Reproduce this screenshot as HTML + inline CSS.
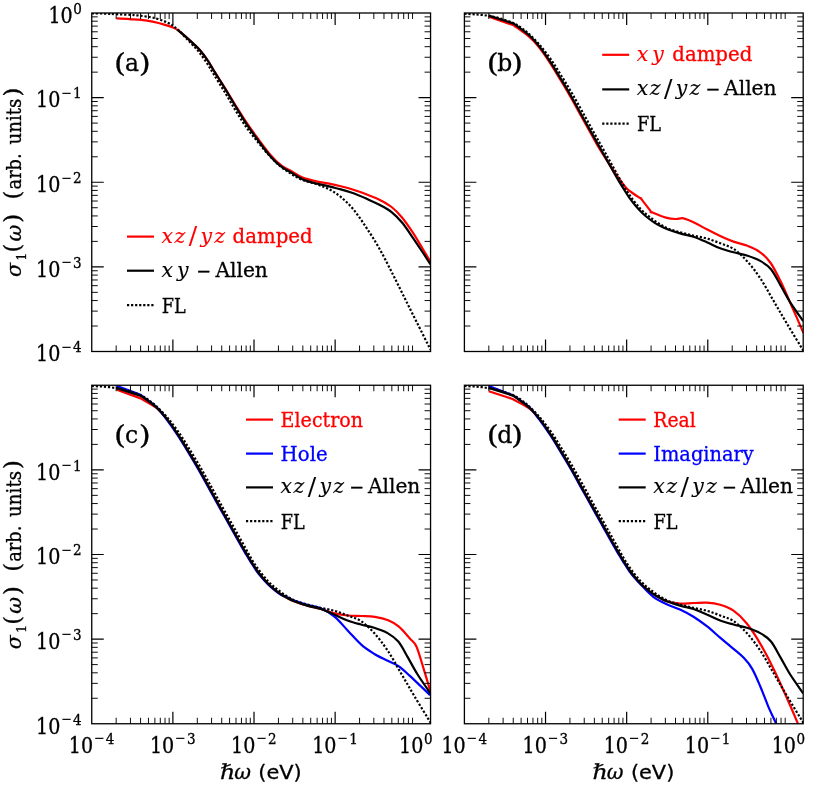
<!DOCTYPE html>
<html><head><meta charset="utf-8"><title>Optical conductivity</title>
<style>html,body{margin:0;padding:0;background:#fff}body{width:830px;height:786px;overflow:hidden}</style></head>
<body>
<svg width="830" height="786" viewBox="0 0 830 786" style="display:block;will-change:transform;font-family:'DejaVu Serif Condensed','DejaVu Serif','Liberation Serif',serif">
<rect width="830" height="786" fill="#fff"/>
<style>text{stroke-width:0.3px}</style>
<clipPath id="cpa"><rect x="91.75" y="13.0" width="338.8" height="338.5"/></clipPath>
<g clip-path="url(#cpa)">
<path d="M116.5,18.4 C118.7,18.5 125.4,18.8 129.5,19.1 C133.6,19.4 137.2,19.5 141.1,19.9 C144.9,20.3 148.8,20.9 152.6,21.7 C156.4,22.5 160.8,23.6 164.2,24.6 C167.6,25.6 170.5,26.5 172.9,27.5 C175.3,28.5 176.4,29.1 178.6,30.6 C180.8,32.1 183.4,34.6 185.9,36.8 C188.4,39.0 190.9,41.3 193.3,43.6 C195.7,45.9 197.7,47.6 200.2,50.5 C202.7,53.4 205.6,57.3 208.1,61.0 C210.6,64.7 212.1,67.9 215.1,72.7 C218.1,77.5 222.5,84.0 226.2,90.0 C229.9,96.0 233.7,102.5 237.4,108.4 C241.1,114.4 244.9,120.3 248.6,125.7 C252.3,131.1 256.0,135.9 259.6,140.8 C263.2,145.7 266.9,150.8 270.5,154.9 C274.1,159.1 277.9,162.9 281.5,165.7 C285.1,168.4 288.4,169.4 291.9,171.4 C295.4,173.4 298.7,176.0 302.6,177.6 C306.5,179.2 311.1,180.1 315.3,181.1 C319.5,182.1 323.8,182.6 328.0,183.4 C332.2,184.2 336.5,185.1 340.8,186.2 C345.0,187.2 349.3,188.3 353.5,189.7 C357.7,191.0 362.0,192.7 366.2,194.3 C370.4,195.9 374.7,197.3 378.9,199.4 C383.1,201.5 387.8,204.0 391.6,207.0 C395.4,210.0 398.4,213.2 401.8,217.2 C405.2,221.2 408.5,226.1 411.9,231.2 C415.3,236.3 419.0,242.6 422.1,247.7 C425.2,252.8 429.1,259.6 430.5,262.0" stroke="#ff0000" stroke-width="2.2" fill="none" stroke-linejoin="round"/>
<path d="M177.2,29.6 C178.7,30.8 183.2,34.5 185.9,36.8 C188.6,39.1 190.9,41.3 193.3,43.6 C195.7,45.9 197.7,47.6 200.2,50.5 C202.7,53.4 205.6,57.3 208.1,61.0 C210.6,64.7 212.1,67.9 215.1,72.7 C218.1,77.5 222.3,84.0 225.9,90.0 C229.5,96.0 233.2,102.5 236.8,108.4 C240.4,114.4 244.0,120.3 247.6,125.7 C251.2,131.1 254.8,135.9 258.4,140.8 C262.0,145.7 265.6,150.8 269.2,154.9 C272.8,159.1 276.4,162.8 280.0,165.7 C283.6,168.6 287.1,170.1 290.8,172.3 C294.4,174.5 298.2,177.2 301.9,179.0 C305.6,180.8 309.1,181.7 312.9,182.8 C316.7,183.9 321.7,184.7 324.9,185.4 C328.1,186.1 329.2,186.4 331.9,187.1 C334.5,187.8 337.2,188.4 340.8,189.4 C344.4,190.4 349.3,191.8 353.5,193.3 C357.7,194.8 362.0,196.7 366.2,198.6 C370.4,200.5 374.7,202.2 378.9,204.5 C383.1,206.8 387.8,209.1 391.6,212.1 C395.4,215.1 398.4,218.3 401.8,222.3 C405.2,226.3 408.5,231.4 411.9,236.3 C415.3,241.2 419.0,246.8 422.1,251.5 C425.2,256.2 429.1,262.2 430.5,264.4" stroke="#000000" stroke-width="2.2" fill="none" stroke-linejoin="round"/>
<path d="M91.8,13.3 C93.9,13.4 100.8,13.4 104.9,13.6 C109.0,13.8 111.4,13.9 116.5,14.2 C121.6,14.5 129.8,14.7 135.3,15.2 C140.8,15.7 145.9,16.4 149.7,17.0 C153.6,17.6 155.5,18.2 158.4,19.1 C161.3,20.0 164.7,21.3 167.1,22.4 C169.5,23.5 171.0,24.4 172.9,25.7 C174.8,27.0 176.5,28.4 178.6,30.3 C180.7,32.2 183.1,35.0 185.4,37.4 C187.7,39.8 190.0,42.1 192.3,44.6 C194.6,47.1 196.8,49.2 199.2,52.3 C201.6,55.4 204.5,59.3 206.9,63.0 C209.3,66.7 210.9,69.7 213.9,74.5 C216.9,79.3 221.1,86.0 224.7,92.0 C228.3,98.0 232.0,104.6 235.6,110.5 C239.2,116.4 242.8,122.2 246.5,127.4 C250.2,132.6 253.9,137.1 257.7,141.8 C261.5,146.5 265.5,151.5 269.2,155.5 C272.9,159.5 276.4,163.0 280.0,166.0 C283.6,169.0 287.1,171.3 290.8,173.6 C294.4,175.9 297.8,178.1 301.9,179.8 C306.0,181.5 310.9,182.3 315.3,183.8 C319.6,185.3 323.8,186.5 328.0,188.7 C332.2,190.9 336.5,193.4 340.8,196.9 C345.0,200.4 349.3,204.5 353.5,209.6 C357.7,214.7 362.0,221.1 366.2,227.4 C370.4,233.8 374.7,240.3 378.9,247.7 C383.1,255.1 387.4,263.6 391.6,271.9 C395.8,280.2 400.1,288.8 404.3,297.3 C408.5,305.8 412.6,314.0 417.0,322.7 C421.4,331.4 428.2,345.1 430.5,349.6" stroke="#000000" stroke-width="2.2" fill="none" stroke-linejoin="round" stroke-dasharray="2.2 1.85"/>
</g>
<path d="M172.88,351.50v-12M172.88,13.00v12M254.01,351.50v-12M254.01,13.00v12M335.14,351.50v-12M335.14,13.00v12M91.75,266.88h12M430.55,266.88h-12M91.75,182.25h12M430.55,182.25h-12M91.75,97.62h12M430.55,97.62h-12" stroke="#000" stroke-width="1.2" fill="none"/>
<path d="M116.17,351.50v-6M116.17,13.00v6M130.46,351.50v-6M130.46,13.00v6M140.59,351.50v-6M140.59,13.00v6M148.46,351.50v-6M148.46,13.00v6M154.88,351.50v-6M154.88,13.00v6M160.31,351.50v-6M160.31,13.00v6M165.02,351.50v-6M165.02,13.00v6M169.17,351.50v-6M169.17,13.00v6M197.30,351.50v-6M197.30,13.00v6M211.59,351.50v-6M211.59,13.00v6M221.72,351.50v-6M221.72,13.00v6M229.58,351.50v-6M229.58,13.00v6M236.01,351.50v-6M236.01,13.00v6M241.44,351.50v-6M241.44,13.00v6M246.14,351.50v-6M246.14,13.00v6M250.29,351.50v-6M250.29,13.00v6M278.43,351.50v-6M278.43,13.00v6M292.72,351.50v-6M292.72,13.00v6M302.85,351.50v-6M302.85,13.00v6M310.71,351.50v-6M310.71,13.00v6M317.14,351.50v-6M317.14,13.00v6M322.57,351.50v-6M322.57,13.00v6M327.27,351.50v-6M327.27,13.00v6M331.42,351.50v-6M331.42,13.00v6M359.56,351.50v-6M359.56,13.00v6M373.84,351.50v-6M373.84,13.00v6M383.98,351.50v-6M383.98,13.00v6M391.84,351.50v-6M391.84,13.00v6M398.27,351.50v-6M398.27,13.00v6M403.70,351.50v-6M403.70,13.00v6M408.40,351.50v-6M408.40,13.00v6M412.55,351.50v-6M412.55,13.00v6M91.75,326.03h6M430.55,326.03h-6M91.75,311.12h6M430.55,311.12h-6M91.75,300.55h6M430.55,300.55h-6M91.75,292.35h6M430.55,292.35h-6M91.75,285.65h6M430.55,285.65h-6M91.75,279.98h6M430.55,279.98h-6M91.75,275.08h6M430.55,275.08h-6M91.75,270.75h6M430.55,270.75h-6M91.75,241.40h6M430.55,241.40h-6M91.75,226.50h6M430.55,226.50h-6M91.75,215.93h6M430.55,215.93h-6M91.75,207.72h6M430.55,207.72h-6M91.75,201.02h6M430.55,201.02h-6M91.75,195.36h6M430.55,195.36h-6M91.75,190.45h6M430.55,190.45h-6M91.75,186.12h6M430.55,186.12h-6M91.75,156.78h6M430.55,156.78h-6M91.75,141.87h6M430.55,141.87h-6M91.75,131.30h6M430.55,131.30h-6M91.75,123.10h6M430.55,123.10h-6M91.75,116.40h6M430.55,116.40h-6M91.75,110.73h6M430.55,110.73h-6M91.75,105.83h6M430.55,105.83h-6M91.75,101.50h6M430.55,101.50h-6M91.75,72.15h6M430.55,72.15h-6M91.75,57.25h6M430.55,57.25h-6M91.75,46.68h6M430.55,46.68h-6M91.75,38.47h6M430.55,38.47h-6M91.75,31.77h6M430.55,31.77h-6M91.75,26.11h6M430.55,26.11h-6M91.75,21.20h6M430.55,21.20h-6M91.75,16.87h6M430.55,16.87h-6" stroke="#000" stroke-width="0.95" fill="none"/>
<rect x="91.75" y="13.0" width="338.8" height="338.5" fill="none" stroke="#000" stroke-width="1.3"/>
<clipPath id="cpb"><rect x="464.4" y="13.0" width="338.8" height="338.5"/></clipPath>
<g clip-path="url(#cpb)">
<path d="M488.8,16.6 L513.7,25.3 C516.2,27.2 524.7,32.9 528.8,36.5 C533.0,40.1 535.2,42.6 538.7,46.9 C542.1,51.2 545.9,56.7 549.5,62.1 C553.1,67.5 556.6,73.5 560.2,79.4 C563.9,85.3 567.4,91.4 571.0,97.7 C574.6,104.0 578.2,110.7 581.8,117.2 C585.4,123.7 589.8,131.5 592.7,136.6 C595.5,141.7 595.7,142.5 599.0,147.8 C602.2,153.1 608.8,163.3 612.0,168.2 C615.1,173.1 616.0,174.3 618.0,177.2 C620.0,180.0 622.2,183.1 624.0,185.3 C625.8,187.5 626.0,188.1 628.8,190.3 C631.5,192.5 638.7,197.1 640.8,198.5 C642.8,199.9 639.5,196.7 641.2,198.9 C642.9,201.1 649.2,209.4 651.0,211.6 C652.7,213.8 649.0,211.1 651.5,212.1 C654.0,213.1 661.9,216.4 666.0,217.6 C670.0,218.8 672.8,218.9 675.8,219.0 C678.7,219.1 680.4,217.7 683.5,218.3 C686.5,218.9 690.1,220.7 694.0,222.5 C697.9,224.3 702.5,227.1 706.8,229.3 C711.2,231.6 715.7,233.9 720.2,236.0 C724.6,238.1 729.1,240.0 733.5,241.6 C738.0,243.2 742.4,243.8 746.8,245.6 C751.3,247.4 756.2,249.3 760.2,252.3 C764.3,255.3 767.4,258.3 771.0,263.5 C774.5,268.7 778.1,276.2 781.7,283.6 C785.2,291.0 788.7,299.4 792.3,307.6 C796.0,315.8 801.7,328.8 803.5,333.0" stroke="#ff0000" stroke-width="2.2" fill="none" stroke-linejoin="round"/>
<path d="M488.8,15.6 L513.7,23.6 C516.2,25.5 524.5,31.1 528.8,35.0 C533.2,38.9 536.1,42.4 539.7,46.9 C543.3,51.4 546.9,56.7 550.5,62.1 C554.1,67.5 557.6,73.5 561.2,79.4 C564.9,85.3 568.4,91.4 572.0,97.7 C575.6,104.0 579.2,110.7 582.8,117.2 C586.4,123.7 590.8,131.5 593.7,136.6 C596.5,141.7 597.9,144.2 600.0,147.8 C602.0,151.5 604.0,154.9 606.0,158.5 C608.0,162.1 610.0,165.7 612.0,169.2 C614.0,172.7 616.0,176.2 618.0,179.6 C620.0,183.0 622.0,186.3 624.0,189.5 C626.0,192.7 628.0,195.9 630.0,198.7 C632.0,201.5 634.0,204.0 636.0,206.3 C638.0,208.6 640.0,210.8 642.0,212.7 C644.0,214.6 646.0,216.4 648.0,218.0 C650.0,219.6 652.0,221.0 654.0,222.3 C656.0,223.6 657.8,224.7 660.0,225.8 C662.1,226.9 663.4,227.7 666.8,229.0 C670.1,230.3 675.6,232.1 680.0,233.4 C684.5,234.7 689.0,235.3 693.5,236.8 C697.9,238.3 702.4,240.3 706.8,242.2 C711.3,244.1 715.7,246.6 720.2,248.3 C724.6,250.0 729.1,251.1 733.5,252.3 C738.0,253.5 742.4,254.1 746.8,255.5 C751.3,256.9 756.2,258.6 760.2,260.9 C764.3,263.2 767.6,265.2 771.0,269.2 C774.3,273.2 777.1,279.4 780.3,284.9 C783.6,290.4 786.4,296.2 790.2,302.3 C794.1,308.4 801.1,318.1 803.2,321.2" stroke="#000000" stroke-width="2.2" fill="none" stroke-linejoin="round"/>
<path d="M464.4,13.7 C466.3,13.8 471.9,14.1 475.9,14.4 C480.0,14.8 484.8,15.1 488.8,15.8 C492.8,16.5 495.9,17.2 499.9,18.4 C504.0,19.6 509.8,21.5 513.2,23.0 C516.8,24.5 518.4,25.7 521.0,27.5 C523.6,29.3 525.7,31.0 528.8,33.9 C532.0,36.8 536.1,40.9 539.7,45.0 C543.3,49.1 546.9,53.7 550.5,58.8 C554.1,63.9 557.6,69.7 561.2,75.5 C564.9,81.3 568.4,87.2 572.0,93.4 C575.6,99.6 579.2,106.0 582.8,112.5 C586.4,119.0 590.1,125.8 593.7,132.3 C597.3,138.8 600.8,145.0 604.5,151.5 C608.1,158.0 611.8,164.5 615.5,171.2 C619.3,177.9 623.0,185.2 627.2,191.5 C631.3,197.8 636.1,204.1 640.5,208.8 C645.0,213.6 649.4,216.8 653.8,220.0 C658.1,223.2 662.4,225.9 666.8,228.0 C671.1,230.1 675.6,231.0 680.0,232.3 C684.5,233.6 689.0,234.6 693.5,235.6 C697.9,236.6 702.4,237.2 706.8,238.5 C711.3,239.8 715.7,241.5 720.2,243.2 C724.6,244.9 729.1,246.0 733.5,248.9 C738.0,251.8 742.4,256.0 746.8,260.9 C751.3,265.8 755.8,271.5 760.2,278.2 C764.7,284.9 769.2,293.4 773.7,301.0 C778.1,308.6 782.0,315.4 787.0,323.7 C791.9,332.0 800.8,346.4 803.5,350.9" stroke="#000000" stroke-width="2.2" fill="none" stroke-linejoin="round" stroke-dasharray="2.2 1.85"/>
</g>
<path d="M545.53,351.50v-12M545.53,13.00v12M626.66,351.50v-12M626.66,13.00v12M707.79,351.50v-12M707.79,13.00v12M464.40,266.88h12M803.20,266.88h-12M464.40,182.25h12M803.20,182.25h-12M464.40,97.62h12M803.20,97.62h-12" stroke="#000" stroke-width="1.2" fill="none"/>
<path d="M488.82,351.50v-6M488.82,13.00v6M503.11,351.50v-6M503.11,13.00v6M513.24,351.50v-6M513.24,13.00v6M521.11,351.50v-6M521.11,13.00v6M527.53,351.50v-6M527.53,13.00v6M532.96,351.50v-6M532.96,13.00v6M537.67,351.50v-6M537.67,13.00v6M541.82,351.50v-6M541.82,13.00v6M569.95,351.50v-6M569.95,13.00v6M584.24,351.50v-6M584.24,13.00v6M594.37,351.50v-6M594.37,13.00v6M602.23,351.50v-6M602.23,13.00v6M608.66,351.50v-6M608.66,13.00v6M614.09,351.50v-6M614.09,13.00v6M618.79,351.50v-6M618.79,13.00v6M622.94,351.50v-6M622.94,13.00v6M651.08,351.50v-6M651.08,13.00v6M665.37,351.50v-6M665.37,13.00v6M675.50,351.50v-6M675.50,13.00v6M683.36,351.50v-6M683.36,13.00v6M689.79,351.50v-6M689.79,13.00v6M695.22,351.50v-6M695.22,13.00v6M699.92,351.50v-6M699.92,13.00v6M704.07,351.50v-6M704.07,13.00v6M732.21,351.50v-6M732.21,13.00v6M746.49,351.50v-6M746.49,13.00v6M756.63,351.50v-6M756.63,13.00v6M764.49,351.50v-6M764.49,13.00v6M770.92,351.50v-6M770.92,13.00v6M776.35,351.50v-6M776.35,13.00v6M781.05,351.50v-6M781.05,13.00v6M785.20,351.50v-6M785.20,13.00v6M464.40,326.03h6M803.20,326.03h-6M464.40,311.12h6M803.20,311.12h-6M464.40,300.55h6M803.20,300.55h-6M464.40,292.35h6M803.20,292.35h-6M464.40,285.65h6M803.20,285.65h-6M464.40,279.98h6M803.20,279.98h-6M464.40,275.08h6M803.20,275.08h-6M464.40,270.75h6M803.20,270.75h-6M464.40,241.40h6M803.20,241.40h-6M464.40,226.50h6M803.20,226.50h-6M464.40,215.93h6M803.20,215.93h-6M464.40,207.72h6M803.20,207.72h-6M464.40,201.02h6M803.20,201.02h-6M464.40,195.36h6M803.20,195.36h-6M464.40,190.45h6M803.20,190.45h-6M464.40,186.12h6M803.20,186.12h-6M464.40,156.78h6M803.20,156.78h-6M464.40,141.87h6M803.20,141.87h-6M464.40,131.30h6M803.20,131.30h-6M464.40,123.10h6M803.20,123.10h-6M464.40,116.40h6M803.20,116.40h-6M464.40,110.73h6M803.20,110.73h-6M464.40,105.83h6M803.20,105.83h-6M464.40,101.50h6M803.20,101.50h-6M464.40,72.15h6M803.20,72.15h-6M464.40,57.25h6M803.20,57.25h-6M464.40,46.68h6M803.20,46.68h-6M464.40,38.47h6M803.20,38.47h-6M464.40,31.77h6M803.20,31.77h-6M464.40,26.11h6M803.20,26.11h-6M464.40,21.20h6M803.20,21.20h-6M464.40,16.87h6M803.20,16.87h-6" stroke="#000" stroke-width="0.95" fill="none"/>
<rect x="464.4" y="13.0" width="338.8" height="338.5" fill="none" stroke="#000" stroke-width="1.3"/>
<clipPath id="cpc"><rect x="91.75" y="385.25" width="338.8" height="338.5"/></clipPath>
<g clip-path="url(#cpc)">
<path d="M116.8,389.8 L140.6,398.4 C143.2,400.0 152.3,404.7 156.8,408.1 C161.2,411.6 163.5,414.8 167.0,419.1 C170.5,423.5 174.2,428.9 177.8,434.4 C181.4,439.8 185.0,445.7 188.6,451.6 C192.2,457.6 195.8,463.6 199.4,469.9 C203.0,476.2 206.6,483.0 210.2,489.4 C213.8,495.9 218.2,503.8 221.0,508.9 C223.9,514.0 225.3,516.4 227.3,520.0 C229.3,523.7 231.3,527.2 233.3,530.8 C235.3,534.3 237.3,537.9 239.3,541.5 C241.3,545.0 243.3,548.5 245.3,551.9 C247.3,555.2 249.3,558.6 251.3,561.8 C253.3,564.9 255.3,568.2 257.3,571.0 C259.3,573.8 261.3,576.2 263.3,578.5 C265.3,580.9 267.3,583.0 269.3,585.0 C271.3,586.9 273.3,588.6 275.3,590.2 C277.3,591.9 279.3,593.2 281.3,594.5 C283.3,595.8 285.2,596.9 287.3,598.0 C289.4,599.2 290.7,600.0 294.1,601.2 C297.4,602.5 303.0,604.4 307.4,605.6 C311.9,606.9 316.2,607.8 320.8,609.0 C325.4,610.3 330.2,612.3 334.8,613.4 C339.4,614.5 343.7,615.1 348.1,615.5 C352.6,615.9 357.1,615.8 361.5,616.0 C365.9,616.2 370.4,616.1 374.8,616.8 C379.2,617.5 384.2,618.6 388.2,620.3 C392.2,621.9 395.3,623.7 398.9,626.7 C402.5,629.7 406.7,635.0 409.6,638.2 C412.5,641.5 414.1,641.5 416.3,646.2 C418.5,650.9 420.6,658.9 422.9,666.3 C425.2,673.6 428.9,686.3 430.1,690.3" stroke="#ff0000" stroke-width="2.2" fill="none" stroke-linejoin="round"/>
<path d="M116.8,385.9 L140.6,394.9 C143.1,396.9 151.5,402.4 155.8,406.4 C160.0,410.5 162.7,414.5 166.3,419.1 C169.9,423.8 173.5,428.9 177.1,434.4 C180.7,439.8 184.3,445.7 187.9,451.6 C191.5,457.6 195.1,463.6 198.7,469.9 C202.3,476.2 205.9,483.0 209.5,489.4 C213.1,495.9 217.5,503.8 220.3,508.9 C223.2,514.0 224.6,516.4 226.6,520.0 C228.7,523.7 230.6,527.2 232.6,530.8 C234.6,534.3 236.6,537.9 238.6,541.5 C240.6,545.0 242.6,548.5 244.6,551.9 C246.6,555.2 248.6,558.6 250.6,561.8 C252.6,564.9 254.6,568.2 256.6,571.0 C258.6,573.8 260.6,576.2 262.6,578.5 C264.6,580.9 266.6,583.0 268.6,585.0 C270.6,586.9 272.6,588.6 274.6,590.2 C276.6,591.9 278.5,593.4 280.6,594.5 C282.7,595.7 285.1,596.3 287.3,597.2 C289.6,598.2 290.7,599.2 294.1,600.5 C297.4,601.7 303.0,603.6 307.4,604.9 C311.9,606.1 316.2,606.3 320.8,608.2 C325.4,610.2 330.2,613.0 334.8,616.8 C339.4,620.6 343.7,626.3 348.1,631.0 C352.6,635.7 357.1,641.0 361.5,644.9 C365.9,648.8 370.4,651.5 374.8,654.2 C379.2,656.9 384.2,658.9 388.2,660.9 C392.2,662.9 395.3,663.8 398.9,666.3 C402.5,668.8 406.0,672.4 409.6,675.6 C413.2,678.9 416.9,682.5 420.3,685.8 C423.7,689.0 428.5,693.5 430.1,695.1" stroke="#0000ff" stroke-width="2.2" fill="none" stroke-linejoin="round"/>
<path d="M116.2,387.9 L141.0,395.9 C143.5,397.8 151.9,403.4 156.2,407.2 C160.5,411.1 163.4,414.6 167.0,419.1 C170.6,423.7 174.2,428.9 177.8,434.4 C181.4,439.8 185.0,445.7 188.6,451.6 C192.2,457.6 195.8,463.6 199.4,469.9 C203.0,476.2 206.6,483.0 210.2,489.4 C213.8,495.9 218.2,503.8 221.0,508.9 C223.9,514.0 225.3,516.4 227.3,520.0 C229.3,523.7 231.3,527.2 233.3,530.8 C235.3,534.3 237.3,537.9 239.3,541.5 C241.3,545.0 243.3,548.5 245.3,551.9 C247.3,555.2 249.3,558.6 251.3,561.8 C253.3,564.9 255.3,568.2 257.3,571.0 C259.3,573.8 261.3,576.2 263.3,578.5 C265.3,580.9 267.3,583.0 269.3,585.0 C271.3,586.9 273.3,588.6 275.3,590.2 C277.3,591.9 279.3,593.2 281.3,594.5 C283.3,595.8 285.2,596.9 287.3,598.0 C289.4,599.2 290.7,600.0 294.1,601.2 C297.4,602.5 303.0,604.4 307.4,605.6 C311.9,606.9 316.3,607.6 320.8,609.0 C325.3,610.5 329.8,612.5 334.2,614.5 C338.6,616.4 343.1,618.9 347.5,620.5 C352.0,622.2 356.5,623.3 360.9,624.5 C365.4,625.8 369.8,626.3 374.2,627.8 C378.6,629.2 383.6,630.9 387.6,633.1 C391.6,635.4 394.9,637.5 398.3,641.5 C401.7,645.5 404.5,651.6 407.7,657.1 C410.9,662.7 413.8,668.5 417.6,674.5 C421.4,680.6 428.4,690.3 430.6,693.5" stroke="#000000" stroke-width="2.2" fill="none" stroke-linejoin="round"/>
<path d="M91.8,385.9 C93.7,386.1 99.2,386.3 103.3,386.6 C107.4,387.0 112.2,387.4 116.2,388.1 C120.2,388.7 123.2,389.4 127.3,390.6 C131.4,391.8 137.1,393.7 140.6,395.2 C144.1,396.8 145.7,397.9 148.3,399.8 C150.9,401.6 153.1,403.2 156.2,406.1 C159.3,409.1 163.4,413.1 167.0,417.2 C170.6,421.4 174.2,426.0 177.8,431.1 C181.4,436.1 185.0,442.0 188.6,447.8 C192.2,453.5 195.8,459.5 199.4,465.6 C203.0,471.8 206.6,478.3 210.2,484.8 C213.8,491.2 217.4,498.1 221.0,504.6 C224.6,511.1 228.2,517.3 231.8,523.8 C235.5,530.2 239.1,536.8 242.9,543.5 C246.7,550.1 250.3,557.5 254.5,563.8 C258.7,570.0 263.5,576.3 267.9,581.0 C272.3,585.8 276.7,589.0 281.1,592.2 C285.5,595.5 289.7,598.2 294.1,600.2 C298.5,602.3 303.0,603.3 307.4,604.5 C311.9,605.8 316.3,606.8 320.8,607.9 C325.3,608.9 329.8,609.5 334.2,610.8 C338.6,612.0 343.1,613.7 347.5,615.5 C352.0,617.2 356.5,618.2 360.9,621.1 C365.4,624.1 369.8,628.3 374.2,633.1 C378.6,638.0 383.1,643.8 387.6,650.5 C392.1,657.1 396.6,665.7 401.0,673.2 C405.5,680.8 409.3,687.6 414.3,696.0 C419.3,704.3 428.1,718.6 430.9,723.1" stroke="#000000" stroke-width="2.2" fill="none" stroke-linejoin="round" stroke-dasharray="2.2 1.85"/>
</g>
<path d="M172.88,723.75v-12M172.88,385.25v12M254.01,723.75v-12M254.01,385.25v12M335.14,723.75v-12M335.14,385.25v12M91.75,639.12h12M430.55,639.12h-12M91.75,554.50h12M430.55,554.50h-12M91.75,469.88h12M430.55,469.88h-12" stroke="#000" stroke-width="1.2" fill="none"/>
<path d="M116.17,723.75v-6M116.17,385.25v6M130.46,723.75v-6M130.46,385.25v6M140.59,723.75v-6M140.59,385.25v6M148.46,723.75v-6M148.46,385.25v6M154.88,723.75v-6M154.88,385.25v6M160.31,723.75v-6M160.31,385.25v6M165.02,723.75v-6M165.02,385.25v6M169.17,723.75v-6M169.17,385.25v6M197.30,723.75v-6M197.30,385.25v6M211.59,723.75v-6M211.59,385.25v6M221.72,723.75v-6M221.72,385.25v6M229.58,723.75v-6M229.58,385.25v6M236.01,723.75v-6M236.01,385.25v6M241.44,723.75v-6M241.44,385.25v6M246.14,723.75v-6M246.14,385.25v6M250.29,723.75v-6M250.29,385.25v6M278.43,723.75v-6M278.43,385.25v6M292.72,723.75v-6M292.72,385.25v6M302.85,723.75v-6M302.85,385.25v6M310.71,723.75v-6M310.71,385.25v6M317.14,723.75v-6M317.14,385.25v6M322.57,723.75v-6M322.57,385.25v6M327.27,723.75v-6M327.27,385.25v6M331.42,723.75v-6M331.42,385.25v6M359.56,723.75v-6M359.56,385.25v6M373.84,723.75v-6M373.84,385.25v6M383.98,723.75v-6M383.98,385.25v6M391.84,723.75v-6M391.84,385.25v6M398.27,723.75v-6M398.27,385.25v6M403.70,723.75v-6M403.70,385.25v6M408.40,723.75v-6M408.40,385.25v6M412.55,723.75v-6M412.55,385.25v6M91.75,698.28h6M430.55,698.28h-6M91.75,683.37h6M430.55,683.37h-6M91.75,672.80h6M430.55,672.80h-6M91.75,664.60h6M430.55,664.60h-6M91.75,657.90h6M430.55,657.90h-6M91.75,652.23h6M430.55,652.23h-6M91.75,647.33h6M430.55,647.33h-6M91.75,643.00h6M430.55,643.00h-6M91.75,613.65h6M430.55,613.65h-6M91.75,598.75h6M430.55,598.75h-6M91.75,588.18h6M430.55,588.18h-6M91.75,579.97h6M430.55,579.97h-6M91.75,573.27h6M430.55,573.27h-6M91.75,567.61h6M430.55,567.61h-6M91.75,562.70h6M430.55,562.70h-6M91.75,558.37h6M430.55,558.37h-6M91.75,529.03h6M430.55,529.03h-6M91.75,514.12h6M430.55,514.12h-6M91.75,503.55h6M430.55,503.55h-6M91.75,495.35h6M430.55,495.35h-6M91.75,488.65h6M430.55,488.65h-6M91.75,482.98h6M430.55,482.98h-6M91.75,478.08h6M430.55,478.08h-6M91.75,473.75h6M430.55,473.75h-6M91.75,444.40h6M430.55,444.40h-6M91.75,429.50h6M430.55,429.50h-6M91.75,418.93h6M430.55,418.93h-6M91.75,410.72h6M430.55,410.72h-6M91.75,404.02h6M430.55,404.02h-6M91.75,398.36h6M430.55,398.36h-6M91.75,393.45h6M430.55,393.45h-6M91.75,389.12h6M430.55,389.12h-6" stroke="#000" stroke-width="0.95" fill="none"/>
<rect x="91.75" y="385.25" width="338.8" height="338.5" fill="none" stroke="#000" stroke-width="1.3"/>
<clipPath id="cpd"><rect x="464.4" y="385.25" width="338.8" height="338.5"/></clipPath>
<g clip-path="url(#cpd)">
<path d="M488.8,391.2 L512.5,399.0 C515.3,400.5 524.3,404.7 528.9,408.1 C533.4,411.5 536.1,414.8 539.7,419.1 C543.3,423.5 546.9,428.9 550.5,434.4 C554.1,439.8 557.6,445.7 561.2,451.6 C564.9,457.6 568.4,463.6 572.0,469.9 C575.6,476.2 579.2,483.0 582.8,489.4 C586.4,495.9 590.8,503.8 593.7,508.9 C596.5,514.0 597.9,516.4 600.0,520.0 C602.0,523.7 604.0,527.2 606.0,530.8 C608.0,534.3 610.0,537.9 612.0,541.5 C614.0,545.0 616.0,548.5 618.0,551.9 C620.0,555.2 622.0,558.6 624.0,561.8 C626.0,564.9 628.0,568.2 630.0,571.0 C632.0,573.8 634.0,576.2 636.0,578.5 C638.0,580.9 640.0,583.0 642.0,585.0 C644.0,586.9 646.0,588.6 648.0,590.2 C650.0,591.9 650.8,592.7 654.0,594.5 C657.1,596.4 662.4,599.8 666.8,601.3 C671.1,602.8 675.6,603.2 680.0,603.5 C684.5,603.8 689.0,603.1 693.5,603.0 C697.9,602.9 702.4,602.4 706.8,602.7 C711.3,603.0 715.7,603.5 720.1,604.8 C724.6,606.1 729.1,607.6 733.5,610.7 C738.0,613.8 742.4,618.0 746.8,623.5 C751.3,629.0 755.8,636.0 760.2,643.6 C764.7,651.2 769.2,659.8 773.6,668.9 C778.1,678.0 783.0,689.3 787.0,698.3 C791.0,707.3 795.4,717.7 797.6,722.9 C799.9,728.1 799.9,728.2 800.4,729.2" stroke="#ff0000" stroke-width="2.2" fill="none" stroke-linejoin="round"/>
<path d="M488.8,386.1 L512.5,395.1 C515.2,397.0 524.0,402.4 528.4,406.4 C532.8,410.4 535.4,414.5 539.0,419.1 C542.5,423.8 546.1,428.9 549.8,434.4 C553.4,439.8 556.9,445.7 560.5,451.6 C564.1,457.6 567.8,463.6 571.4,469.9 C575.0,476.2 578.5,483.0 582.1,489.4 C585.8,495.9 590.1,503.8 593.0,508.9 C595.8,514.0 597.2,516.4 599.2,520.0 C601.3,523.7 603.2,527.2 605.2,530.8 C607.2,534.3 609.2,537.9 611.2,541.5 C613.2,545.0 615.2,548.5 617.2,551.9 C619.2,555.2 621.2,558.6 623.2,561.8 C625.2,564.9 627.2,568.2 629.2,571.0 C631.2,573.8 633.2,576.2 635.2,578.5 C637.2,580.9 638.2,581.9 641.2,585.0 C644.3,588.0 649.1,593.6 653.3,596.8 C657.6,600.0 662.3,602.2 666.8,604.3 C671.2,606.4 675.6,607.5 680.0,609.6 C684.5,611.7 689.0,614.0 693.5,616.8 C697.9,619.6 702.4,622.7 706.8,626.2 C711.3,629.7 715.7,633.9 720.1,637.7 C724.6,641.5 729.5,645.5 733.5,648.9 C737.6,652.3 741.1,655.0 744.2,658.3 C747.4,661.6 749.6,664.2 752.2,668.9 C754.9,673.6 757.6,680.1 760.2,686.3 C762.9,692.5 765.7,700.2 768.2,706.3 C770.8,712.4 774.1,719.1 775.8,722.9 C777.4,726.7 778.0,728.2 778.4,729.2" stroke="#0000ff" stroke-width="2.2" fill="none" stroke-linejoin="round"/>
<path d="M488.8,387.9 L513.7,395.9 C516.2,397.8 524.5,403.4 528.8,407.2 C533.2,411.1 536.1,414.6 539.7,419.1 C543.3,423.7 546.9,428.9 550.5,434.4 C554.1,439.8 557.6,445.7 561.2,451.6 C564.9,457.6 568.4,463.6 572.0,469.9 C575.6,476.2 579.2,483.0 582.8,489.4 C586.4,495.9 590.8,503.8 593.7,508.9 C596.5,514.0 597.9,516.4 600.0,520.0 C602.0,523.7 604.0,527.2 606.0,530.8 C608.0,534.3 610.0,537.9 612.0,541.5 C614.0,545.0 616.0,548.5 618.0,551.9 C620.0,555.2 622.0,558.6 624.0,561.8 C626.0,564.9 628.0,568.2 630.0,571.0 C632.0,573.8 634.0,576.2 636.0,578.5 C638.0,580.9 640.0,583.0 642.0,585.0 C644.0,586.9 646.0,588.6 648.0,590.2 C650.0,591.9 652.0,593.2 654.0,594.5 C656.0,595.8 657.8,596.9 660.0,598.0 C662.1,599.2 663.4,600.0 666.8,601.2 C670.1,602.5 675.6,604.4 680.0,605.6 C684.5,606.9 689.0,607.6 693.5,609.0 C697.9,610.5 702.4,612.5 706.8,614.5 C711.3,616.4 715.7,618.9 720.2,620.5 C724.6,622.2 729.1,623.3 733.5,624.5 C738.0,625.8 742.4,626.3 746.8,627.8 C751.3,629.2 756.2,630.9 760.2,633.1 C764.3,635.4 767.6,637.5 771.0,641.5 C774.3,645.5 777.1,651.6 780.3,657.1 C783.6,662.7 786.4,668.5 790.2,674.5 C794.1,680.6 801.1,690.3 803.2,693.5" stroke="#000000" stroke-width="2.2" fill="none" stroke-linejoin="round"/>
<path d="M464.4,385.9 C466.3,386.1 471.9,386.3 475.9,386.6 C480.0,387.0 484.8,387.4 488.8,388.1 C492.8,388.7 495.9,389.4 499.9,390.6 C504.0,391.8 509.8,393.7 513.2,395.2 C516.8,396.8 518.4,397.9 521.0,399.8 C523.6,401.6 525.7,403.2 528.8,406.1 C532.0,409.1 536.1,413.1 539.7,417.2 C543.3,421.4 546.9,426.0 550.5,431.1 C554.1,436.1 557.6,442.0 561.2,447.8 C564.9,453.5 568.4,459.5 572.0,465.6 C575.6,471.8 579.2,478.3 582.8,484.8 C586.4,491.2 590.1,498.1 593.7,504.6 C597.3,511.1 600.8,517.3 604.5,523.8 C608.1,530.2 611.8,536.8 615.5,543.5 C619.3,550.1 623.0,557.5 627.2,563.8 C631.3,570.0 636.1,576.3 640.5,581.0 C645.0,585.8 649.4,589.0 653.8,592.2 C658.1,595.5 662.4,598.2 666.8,600.2 C671.1,602.3 675.6,603.3 680.0,604.5 C684.5,605.8 689.0,606.8 693.5,607.9 C697.9,608.9 702.4,609.5 706.8,610.8 C711.3,612.0 715.7,613.7 720.2,615.5 C724.6,617.2 729.1,618.2 733.5,621.1 C738.0,624.1 742.4,628.3 746.8,633.1 C751.3,638.0 755.8,643.8 760.2,650.5 C764.7,657.1 769.2,665.7 773.7,673.2 C778.1,680.8 782.0,687.6 787.0,696.0 C791.9,704.3 800.8,718.6 803.5,723.1" stroke="#000000" stroke-width="2.2" fill="none" stroke-linejoin="round" stroke-dasharray="2.2 1.85"/>
</g>
<path d="M545.53,723.75v-12M545.53,385.25v12M626.66,723.75v-12M626.66,385.25v12M707.79,723.75v-12M707.79,385.25v12M464.40,639.12h12M803.20,639.12h-12M464.40,554.50h12M803.20,554.50h-12M464.40,469.88h12M803.20,469.88h-12" stroke="#000" stroke-width="1.2" fill="none"/>
<path d="M488.82,723.75v-6M488.82,385.25v6M503.11,723.75v-6M503.11,385.25v6M513.24,723.75v-6M513.24,385.25v6M521.11,723.75v-6M521.11,385.25v6M527.53,723.75v-6M527.53,385.25v6M532.96,723.75v-6M532.96,385.25v6M537.67,723.75v-6M537.67,385.25v6M541.82,723.75v-6M541.82,385.25v6M569.95,723.75v-6M569.95,385.25v6M584.24,723.75v-6M584.24,385.25v6M594.37,723.75v-6M594.37,385.25v6M602.23,723.75v-6M602.23,385.25v6M608.66,723.75v-6M608.66,385.25v6M614.09,723.75v-6M614.09,385.25v6M618.79,723.75v-6M618.79,385.25v6M622.94,723.75v-6M622.94,385.25v6M651.08,723.75v-6M651.08,385.25v6M665.37,723.75v-6M665.37,385.25v6M675.50,723.75v-6M675.50,385.25v6M683.36,723.75v-6M683.36,385.25v6M689.79,723.75v-6M689.79,385.25v6M695.22,723.75v-6M695.22,385.25v6M699.92,723.75v-6M699.92,385.25v6M704.07,723.75v-6M704.07,385.25v6M732.21,723.75v-6M732.21,385.25v6M746.49,723.75v-6M746.49,385.25v6M756.63,723.75v-6M756.63,385.25v6M764.49,723.75v-6M764.49,385.25v6M770.92,723.75v-6M770.92,385.25v6M776.35,723.75v-6M776.35,385.25v6M781.05,723.75v-6M781.05,385.25v6M785.20,723.75v-6M785.20,385.25v6M464.40,698.28h6M803.20,698.28h-6M464.40,683.37h6M803.20,683.37h-6M464.40,672.80h6M803.20,672.80h-6M464.40,664.60h6M803.20,664.60h-6M464.40,657.90h6M803.20,657.90h-6M464.40,652.23h6M803.20,652.23h-6M464.40,647.33h6M803.20,647.33h-6M464.40,643.00h6M803.20,643.00h-6M464.40,613.65h6M803.20,613.65h-6M464.40,598.75h6M803.20,598.75h-6M464.40,588.18h6M803.20,588.18h-6M464.40,579.97h6M803.20,579.97h-6M464.40,573.27h6M803.20,573.27h-6M464.40,567.61h6M803.20,567.61h-6M464.40,562.70h6M803.20,562.70h-6M464.40,558.37h6M803.20,558.37h-6M464.40,529.03h6M803.20,529.03h-6M464.40,514.12h6M803.20,514.12h-6M464.40,503.55h6M803.20,503.55h-6M464.40,495.35h6M803.20,495.35h-6M464.40,488.65h6M803.20,488.65h-6M464.40,482.98h6M803.20,482.98h-6M464.40,478.08h6M803.20,478.08h-6M464.40,473.75h6M803.20,473.75h-6M464.40,444.40h6M803.20,444.40h-6M464.40,429.50h6M803.20,429.50h-6M464.40,418.93h6M803.20,418.93h-6M464.40,410.72h6M803.20,410.72h-6M464.40,404.02h6M803.20,404.02h-6M464.40,398.36h6M803.20,398.36h-6M464.40,393.45h6M803.20,393.45h-6M464.40,389.12h6M803.20,389.12h-6" stroke="#000" stroke-width="0.95" fill="none"/>
<rect x="464.4" y="385.25" width="338.8" height="338.5" fill="none" stroke="#000" stroke-width="1.3"/>
<text x="68.75" y="752.7" font-size="21.7" font-family="'DejaVu Serif Condensed','DejaVu Serif','Liberation Serif',serif" font-stretch="condensed" stroke="#000" textLength="24.3" lengthAdjust="spacingAndGlyphs">10</text>
<text x="93.65" y="743.2" font-size="15.0" font-family="'DejaVu Serif Condensed','DejaVu Serif','Liberation Serif',serif" font-stretch="condensed" stroke="#000" textLength="11.0" lengthAdjust="spacingAndGlyphs" style="stroke-width:0px">−</text>
<text x="105.75" y="743.6" font-size="15.0" font-family="'DejaVu Serif Condensed','DejaVu Serif','Liberation Serif',serif" font-stretch="condensed" stroke="#000">4</text>
<text x="149.88" y="752.7" font-size="21.7" font-family="'DejaVu Serif Condensed','DejaVu Serif','Liberation Serif',serif" font-stretch="condensed" stroke="#000" textLength="24.3" lengthAdjust="spacingAndGlyphs">10</text>
<text x="174.78" y="743.2" font-size="15.0" font-family="'DejaVu Serif Condensed','DejaVu Serif','Liberation Serif',serif" font-stretch="condensed" stroke="#000" textLength="11.0" lengthAdjust="spacingAndGlyphs" style="stroke-width:0px">−</text>
<text x="186.88" y="743.6" font-size="15.0" font-family="'DejaVu Serif Condensed','DejaVu Serif','Liberation Serif',serif" font-stretch="condensed" stroke="#000">3</text>
<text x="231.01" y="752.7" font-size="21.7" font-family="'DejaVu Serif Condensed','DejaVu Serif','Liberation Serif',serif" font-stretch="condensed" stroke="#000" textLength="24.3" lengthAdjust="spacingAndGlyphs">10</text>
<text x="255.91" y="743.2" font-size="15.0" font-family="'DejaVu Serif Condensed','DejaVu Serif','Liberation Serif',serif" font-stretch="condensed" stroke="#000" textLength="11.0" lengthAdjust="spacingAndGlyphs" style="stroke-width:0px">−</text>
<text x="268.01" y="743.6" font-size="15.0" font-family="'DejaVu Serif Condensed','DejaVu Serif','Liberation Serif',serif" font-stretch="condensed" stroke="#000">2</text>
<text x="312.14" y="752.7" font-size="21.7" font-family="'DejaVu Serif Condensed','DejaVu Serif','Liberation Serif',serif" font-stretch="condensed" stroke="#000" textLength="24.3" lengthAdjust="spacingAndGlyphs">10</text>
<text x="337.04" y="743.2" font-size="15.0" font-family="'DejaVu Serif Condensed','DejaVu Serif','Liberation Serif',serif" font-stretch="condensed" stroke="#000" textLength="11.0" lengthAdjust="spacingAndGlyphs" style="stroke-width:0px">−</text>
<text x="349.14" y="743.6" font-size="15.0" font-family="'DejaVu Serif Condensed','DejaVu Serif','Liberation Serif',serif" font-stretch="condensed" stroke="#000">1</text>
<text x="399.06" y="752.7" font-size="21.7" font-family="'DejaVu Serif Condensed','DejaVu Serif','Liberation Serif',serif" font-stretch="condensed" stroke="#000" textLength="24.3" lengthAdjust="spacingAndGlyphs">10</text>
<text x="423.96" y="743.6" font-size="15.0" font-family="'DejaVu Serif Condensed','DejaVu Serif','Liberation Serif',serif" font-stretch="condensed" stroke="#000">0</text>
<text x="441.4" y="752.7" font-size="21.7" font-family="'DejaVu Serif Condensed','DejaVu Serif','Liberation Serif',serif" font-stretch="condensed" stroke="#000" textLength="24.3" lengthAdjust="spacingAndGlyphs">10</text>
<text x="466.3" y="743.2" font-size="15.0" font-family="'DejaVu Serif Condensed','DejaVu Serif','Liberation Serif',serif" font-stretch="condensed" stroke="#000" textLength="11.0" lengthAdjust="spacingAndGlyphs" style="stroke-width:0px">−</text>
<text x="478.4" y="743.6" font-size="15.0" font-family="'DejaVu Serif Condensed','DejaVu Serif','Liberation Serif',serif" font-stretch="condensed" stroke="#000">4</text>
<text x="522.53" y="752.7" font-size="21.7" font-family="'DejaVu Serif Condensed','DejaVu Serif','Liberation Serif',serif" font-stretch="condensed" stroke="#000" textLength="24.3" lengthAdjust="spacingAndGlyphs">10</text>
<text x="547.43" y="743.2" font-size="15.0" font-family="'DejaVu Serif Condensed','DejaVu Serif','Liberation Serif',serif" font-stretch="condensed" stroke="#000" textLength="11.0" lengthAdjust="spacingAndGlyphs" style="stroke-width:0px">−</text>
<text x="559.53" y="743.6" font-size="15.0" font-family="'DejaVu Serif Condensed','DejaVu Serif','Liberation Serif',serif" font-stretch="condensed" stroke="#000">3</text>
<text x="603.66" y="752.7" font-size="21.7" font-family="'DejaVu Serif Condensed','DejaVu Serif','Liberation Serif',serif" font-stretch="condensed" stroke="#000" textLength="24.3" lengthAdjust="spacingAndGlyphs">10</text>
<text x="628.56" y="743.2" font-size="15.0" font-family="'DejaVu Serif Condensed','DejaVu Serif','Liberation Serif',serif" font-stretch="condensed" stroke="#000" textLength="11.0" lengthAdjust="spacingAndGlyphs" style="stroke-width:0px">−</text>
<text x="640.66" y="743.6" font-size="15.0" font-family="'DejaVu Serif Condensed','DejaVu Serif','Liberation Serif',serif" font-stretch="condensed" stroke="#000">2</text>
<text x="684.79" y="752.7" font-size="21.7" font-family="'DejaVu Serif Condensed','DejaVu Serif','Liberation Serif',serif" font-stretch="condensed" stroke="#000" textLength="24.3" lengthAdjust="spacingAndGlyphs">10</text>
<text x="709.69" y="743.2" font-size="15.0" font-family="'DejaVu Serif Condensed','DejaVu Serif','Liberation Serif',serif" font-stretch="condensed" stroke="#000" textLength="11.0" lengthAdjust="spacingAndGlyphs" style="stroke-width:0px">−</text>
<text x="721.79" y="743.6" font-size="15.0" font-family="'DejaVu Serif Condensed','DejaVu Serif','Liberation Serif',serif" font-stretch="condensed" stroke="#000">1</text>
<text x="771.71" y="752.7" font-size="21.7" font-family="'DejaVu Serif Condensed','DejaVu Serif','Liberation Serif',serif" font-stretch="condensed" stroke="#000" textLength="24.3" lengthAdjust="spacingAndGlyphs">10</text>
<text x="796.61" y="743.6" font-size="15.0" font-family="'DejaVu Serif Condensed','DejaVu Serif','Liberation Serif',serif" font-stretch="condensed" stroke="#000">0</text>
<text x="48.4" y="22.85" font-size="21.7" font-family="'DejaVu Serif Condensed','DejaVu Serif','Liberation Serif',serif" font-stretch="condensed" stroke="#000" textLength="24.3" lengthAdjust="spacingAndGlyphs">10</text>
<text x="73.3" y="13.750000000000002" font-size="15.0" font-family="'DejaVu Serif Condensed','DejaVu Serif','Liberation Serif',serif" font-stretch="condensed" stroke="#000">0</text>
<text x="36.0" y="107.475" font-size="21.7" font-family="'DejaVu Serif Condensed','DejaVu Serif','Liberation Serif',serif" font-stretch="condensed" stroke="#000" textLength="24.3" lengthAdjust="spacingAndGlyphs">10</text>
<text x="60.9" y="97.97" font-size="15.0" font-family="'DejaVu Serif Condensed','DejaVu Serif','Liberation Serif',serif" font-stretch="condensed" stroke="#000" textLength="11.0" lengthAdjust="spacingAndGlyphs" style="stroke-width:0px">−</text>
<text x="73.0" y="98.375" font-size="15.0" font-family="'DejaVu Serif Condensed','DejaVu Serif','Liberation Serif',serif" font-stretch="condensed" stroke="#000">1</text>
<text x="36.0" y="192.1" font-size="21.7" font-family="'DejaVu Serif Condensed','DejaVu Serif','Liberation Serif',serif" font-stretch="condensed" stroke="#000" textLength="24.3" lengthAdjust="spacingAndGlyphs">10</text>
<text x="60.9" y="182.6" font-size="15.0" font-family="'DejaVu Serif Condensed','DejaVu Serif','Liberation Serif',serif" font-stretch="condensed" stroke="#000" textLength="11.0" lengthAdjust="spacingAndGlyphs" style="stroke-width:0px">−</text>
<text x="73.0" y="183.0" font-size="15.0" font-family="'DejaVu Serif Condensed','DejaVu Serif','Liberation Serif',serif" font-stretch="condensed" stroke="#000">2</text>
<text x="36.0" y="276.725" font-size="21.7" font-family="'DejaVu Serif Condensed','DejaVu Serif','Liberation Serif',serif" font-stretch="condensed" stroke="#000" textLength="24.3" lengthAdjust="spacingAndGlyphs">10</text>
<text x="60.9" y="267.23" font-size="15.0" font-family="'DejaVu Serif Condensed','DejaVu Serif','Liberation Serif',serif" font-stretch="condensed" stroke="#000" textLength="11.0" lengthAdjust="spacingAndGlyphs" style="stroke-width:0px">−</text>
<text x="73.0" y="267.625" font-size="15.0" font-family="'DejaVu Serif Condensed','DejaVu Serif','Liberation Serif',serif" font-stretch="condensed" stroke="#000">3</text>
<text x="36.0" y="361.35" font-size="21.7" font-family="'DejaVu Serif Condensed','DejaVu Serif','Liberation Serif',serif" font-stretch="condensed" stroke="#000" textLength="24.3" lengthAdjust="spacingAndGlyphs">10</text>
<text x="60.9" y="351.85" font-size="15.0" font-family="'DejaVu Serif Condensed','DejaVu Serif','Liberation Serif',serif" font-stretch="condensed" stroke="#000" textLength="11.0" lengthAdjust="spacingAndGlyphs" style="stroke-width:0px">−</text>
<text x="73.0" y="352.25" font-size="15.0" font-family="'DejaVu Serif Condensed','DejaVu Serif','Liberation Serif',serif" font-stretch="condensed" stroke="#000">4</text>
<text x="36.0" y="479.725" font-size="21.7" font-family="'DejaVu Serif Condensed','DejaVu Serif','Liberation Serif',serif" font-stretch="condensed" stroke="#000" textLength="24.3" lengthAdjust="spacingAndGlyphs">10</text>
<text x="60.9" y="470.23" font-size="15.0" font-family="'DejaVu Serif Condensed','DejaVu Serif','Liberation Serif',serif" font-stretch="condensed" stroke="#000" textLength="11.0" lengthAdjust="spacingAndGlyphs" style="stroke-width:0px">−</text>
<text x="73.0" y="470.625" font-size="15.0" font-family="'DejaVu Serif Condensed','DejaVu Serif','Liberation Serif',serif" font-stretch="condensed" stroke="#000">1</text>
<text x="36.0" y="564.35" font-size="21.7" font-family="'DejaVu Serif Condensed','DejaVu Serif','Liberation Serif',serif" font-stretch="condensed" stroke="#000" textLength="24.3" lengthAdjust="spacingAndGlyphs">10</text>
<text x="60.9" y="554.85" font-size="15.0" font-family="'DejaVu Serif Condensed','DejaVu Serif','Liberation Serif',serif" font-stretch="condensed" stroke="#000" textLength="11.0" lengthAdjust="spacingAndGlyphs" style="stroke-width:0px">−</text>
<text x="73.0" y="555.25" font-size="15.0" font-family="'DejaVu Serif Condensed','DejaVu Serif','Liberation Serif',serif" font-stretch="condensed" stroke="#000">2</text>
<text x="36.0" y="648.975" font-size="21.7" font-family="'DejaVu Serif Condensed','DejaVu Serif','Liberation Serif',serif" font-stretch="condensed" stroke="#000" textLength="24.3" lengthAdjust="spacingAndGlyphs">10</text>
<text x="60.9" y="639.48" font-size="15.0" font-family="'DejaVu Serif Condensed','DejaVu Serif','Liberation Serif',serif" font-stretch="condensed" stroke="#000" textLength="11.0" lengthAdjust="spacingAndGlyphs" style="stroke-width:0px">−</text>
<text x="73.0" y="639.875" font-size="15.0" font-family="'DejaVu Serif Condensed','DejaVu Serif','Liberation Serif',serif" font-stretch="condensed" stroke="#000">3</text>
<text x="36.0" y="733.6" font-size="21.7" font-family="'DejaVu Serif Condensed','DejaVu Serif','Liberation Serif',serif" font-stretch="condensed" stroke="#000" textLength="24.3" lengthAdjust="spacingAndGlyphs">10</text>
<text x="60.9" y="724.1" font-size="15.0" font-family="'DejaVu Serif Condensed','DejaVu Serif','Liberation Serif',serif" font-stretch="condensed" stroke="#000" textLength="11.0" lengthAdjust="spacingAndGlyphs" style="stroke-width:0px">−</text>
<text x="73.0" y="724.5" font-size="15.0" font-family="'DejaVu Serif Condensed','DejaVu Serif','Liberation Serif',serif" font-stretch="condensed" stroke="#000">4</text>
<text x="219.95" y="779.0" font-size="20.5" font-family="'DejaVu Serif','Liberation Serif',serif" font-style="italic" stroke="#000" textLength="15.3" lengthAdjust="spacingAndGlyphs">ℏ</text>
<text x="234.15" y="779.0" font-size="20.5" font-family="'DejaVu Serif','Liberation Serif',serif" font-style="italic" stroke="#000">ω</text>
<text x="258.25" y="779.0" font-size="19.6" font-family="'DejaVu Sans','Liberation Sans',sans-serif" stroke="#000" textLength="43.4" lengthAdjust="spacingAndGlyphs">(eV)</text>
<text x="592.6" y="779.0" font-size="20.5" font-family="'DejaVu Serif','Liberation Serif',serif" font-style="italic" stroke="#000" textLength="15.3" lengthAdjust="spacingAndGlyphs">ℏ</text>
<text x="606.8" y="779.0" font-size="20.5" font-family="'DejaVu Serif','Liberation Serif',serif" font-style="italic" stroke="#000">ω</text>
<text x="630.9" y="779.0" font-size="19.6" font-family="'DejaVu Sans','Liberation Sans',sans-serif" stroke="#000" textLength="43.4" lengthAdjust="spacingAndGlyphs">(eV)</text>
<g transform="translate(21.3,276.4) rotate(-90)">
<text x="-0.5" y="0" font-size="20.5" font-family="'DejaVu Serif','Liberation Serif',serif" font-style="italic" stroke="#000">σ</text>
<text x="16.0" y="4.5" font-size="13.5" font-family="'DejaVu Serif Condensed','DejaVu Serif','Liberation Serif',serif" font-stretch="condensed" stroke="#000">1</text>
<text x="24.0" y="-1.6" font-size="22.5" font-family="'DejaVu Serif','Liberation Serif',serif" stroke="#000">(</text>
<text x="35.0" y="0" font-size="20.5" font-family="'DejaVu Serif','Liberation Serif',serif" font-style="italic" stroke="#000">ω</text>
<text x="53.6" y="-1.6" font-size="22.5" font-family="'DejaVu Serif','Liberation Serif',serif" stroke="#000">)</text>
<text x="77.0" y="-1.6" font-size="22.5" font-family="'DejaVu Serif','Liberation Serif',serif" stroke="#000">(</text>
<text x="87.0" y="0" font-size="20.5" font-family="'DejaVu Serif','Liberation Serif',serif" stroke="#000" textLength="36.0" lengthAdjust="spacingAndGlyphs">arb.</text>
<text x="131.8" y="0" font-size="20.5" font-family="'DejaVu Serif','Liberation Serif',serif" stroke="#000" textLength="46.0" lengthAdjust="spacingAndGlyphs">units</text>
<text x="179.8" y="-1.6" font-size="22.5" font-family="'DejaVu Serif','Liberation Serif',serif" stroke="#000">)</text>
</g>
<g transform="translate(21.3,648.7) rotate(-90)">
<text x="-0.5" y="0" font-size="20.5" font-family="'DejaVu Serif','Liberation Serif',serif" font-style="italic" stroke="#000">σ</text>
<text x="16.0" y="4.5" font-size="13.5" font-family="'DejaVu Serif Condensed','DejaVu Serif','Liberation Serif',serif" font-stretch="condensed" stroke="#000">1</text>
<text x="24.0" y="-1.6" font-size="22.5" font-family="'DejaVu Serif','Liberation Serif',serif" stroke="#000">(</text>
<text x="35.0" y="0" font-size="20.5" font-family="'DejaVu Serif','Liberation Serif',serif" font-style="italic" stroke="#000">ω</text>
<text x="53.6" y="-1.6" font-size="22.5" font-family="'DejaVu Serif','Liberation Serif',serif" stroke="#000">)</text>
<text x="77.0" y="-1.6" font-size="22.5" font-family="'DejaVu Serif','Liberation Serif',serif" stroke="#000">(</text>
<text x="87.0" y="0" font-size="20.5" font-family="'DejaVu Serif','Liberation Serif',serif" stroke="#000" textLength="36.0" lengthAdjust="spacingAndGlyphs">arb.</text>
<text x="131.8" y="0" font-size="20.5" font-family="'DejaVu Serif','Liberation Serif',serif" stroke="#000" textLength="46.0" lengthAdjust="spacingAndGlyphs">units</text>
<text x="179.8" y="-1.6" font-size="22.5" font-family="'DejaVu Serif','Liberation Serif',serif" stroke="#000">)</text>
</g>
<text x="114.1" y="71.5" font-size="26" font-family="'DejaVu Serif','Liberation Serif',serif" stroke="#000" textLength="12.0" lengthAdjust="spacingAndGlyphs">(</text>
<text x="124.95" y="70.8" font-size="23.5" font-family="'DejaVu Serif','Liberation Serif',serif" stroke="#000">a</text>
<text x="138.75" y="71.5" font-size="26" font-family="'DejaVu Serif','Liberation Serif',serif" stroke="#000" textLength="12.0" lengthAdjust="spacingAndGlyphs">)</text>
<text x="486.75" y="71.5" font-size="26" font-family="'DejaVu Serif','Liberation Serif',serif" stroke="#000" textLength="12.0" lengthAdjust="spacingAndGlyphs">(</text>
<text x="497.2" y="70.8" font-size="23.5" font-family="'DejaVu Serif','Liberation Serif',serif" stroke="#000">b</text>
<text x="511.0" y="71.5" font-size="26" font-family="'DejaVu Serif','Liberation Serif',serif" stroke="#000" textLength="12.0" lengthAdjust="spacingAndGlyphs">)</text>
<text x="114.1" y="443.75" font-size="26" font-family="'DejaVu Serif','Liberation Serif',serif" stroke="#000" textLength="12.0" lengthAdjust="spacingAndGlyphs">(</text>
<text x="124.95" y="443.05" font-size="23.5" font-family="'DejaVu Serif','Liberation Serif',serif" stroke="#000">c</text>
<text x="138.75" y="443.75" font-size="26" font-family="'DejaVu Serif','Liberation Serif',serif" stroke="#000" textLength="12.0" lengthAdjust="spacingAndGlyphs">)</text>
<text x="486.75" y="443.75" font-size="26" font-family="'DejaVu Serif','Liberation Serif',serif" stroke="#000" textLength="12.0" lengthAdjust="spacingAndGlyphs">(</text>
<text x="497.2" y="443.05" font-size="23.5" font-family="'DejaVu Serif','Liberation Serif',serif" stroke="#000">d</text>
<text x="511.0" y="443.75" font-size="26" font-family="'DejaVu Serif','Liberation Serif',serif" stroke="#000" textLength="12.0" lengthAdjust="spacingAndGlyphs">)</text>
<path d="M127.0,236.6h27" stroke="#ff0000" stroke-width="2.2" fill="none"/>
<text x="161.6 174.5 200.6 214.3" y="242.5" font-size="20.5" font-family="'DejaVu Serif','Liberation Serif',serif" font-style="italic" fill="#ff0000" stroke="#ff0000" style="stroke-width:.12px">xzyz</text>
<text x="188.8" y="243.90" font-size="25" font-family="'DejaVu Serif','Liberation Serif',serif" fill="#ff0000" stroke="#ff0000" style="stroke-width:.08px">/</text>
<text x="232.6" y="242.5" font-size="20.5" font-family="'DejaVu Serif','Liberation Serif',serif" fill="#ff0000" stroke="#ff0000" textLength="80.0" lengthAdjust="spacingAndGlyphs">damped</text>
<path d="M127.0,270.7h27" stroke="#000000" stroke-width="2.2" fill="none"/>
<text x="161.6 177.1" y="276.6" font-size="20.5" font-family="'DejaVu Serif','Liberation Serif',serif" font-style="italic" fill="#000000" stroke="#000000" style="stroke-width:.12px">xy</text>
<text x="196.9" y="276.6" font-size="20.5" font-family="'DejaVu Serif','Liberation Serif',serif" fill="#000000" stroke="#000000" textLength="13.4" lengthAdjust="spacingAndGlyphs">–</text>
<text x="215.4" y="276.6" font-size="20.5" font-family="'DejaVu Serif','Liberation Serif',serif" fill="#000000" stroke="#000000" textLength="52.5" lengthAdjust="spacingAndGlyphs">Allen</text>
<path d="M127.0,305.2h27" stroke="#000000" stroke-width="2.2" fill="none" stroke-dasharray="2.2 1.85"/>
<text x="161.8" y="312.8" font-size="20.5" font-family="'DejaVu Serif','Liberation Serif',serif" fill="#000000" stroke="#000000" textLength="24.0" lengthAdjust="spacingAndGlyphs">FL</text>
<path d="M602.2,54.8h27" stroke="#ff0000" stroke-width="2.2" fill="none"/>
<text x="636.8 652.3" y="60.7" font-size="20.5" font-family="'DejaVu Serif','Liberation Serif',serif" font-style="italic" fill="#ff0000" stroke="#ff0000" style="stroke-width:.12px">xy</text>
<text x="672.3" y="60.7" font-size="20.5" font-family="'DejaVu Serif','Liberation Serif',serif" fill="#ff0000" stroke="#ff0000" textLength="80.0" lengthAdjust="spacingAndGlyphs">damped</text>
<path d="M602.2,89.4h27" stroke="#000000" stroke-width="2.2" fill="none"/>
<text x="636.8 649.7 675.8 689.5" y="95.3" font-size="20.5" font-family="'DejaVu Serif','Liberation Serif',serif" font-style="italic" fill="#000000" stroke="#000000" style="stroke-width:.12px">xzyz</text>
<text x="664.0" y="96.70" font-size="25" font-family="'DejaVu Serif','Liberation Serif',serif" fill="#000000" stroke="#000000" style="stroke-width:.08px">/</text>
<text x="706.2" y="95.3" font-size="20.5" font-family="'DejaVu Serif','Liberation Serif',serif" fill="#000000" stroke="#000000" textLength="13.4" lengthAdjust="spacingAndGlyphs">–</text>
<text x="724.1" y="95.3" font-size="20.5" font-family="'DejaVu Serif','Liberation Serif',serif" fill="#000000" stroke="#000000" textLength="52.5" lengthAdjust="spacingAndGlyphs">Allen</text>
<path d="M602.2,123.7h27" stroke="#000000" stroke-width="2.2" fill="none" stroke-dasharray="2.2 1.85"/>
<text x="637.0" y="131.3" font-size="20.5" font-family="'DejaVu Serif','Liberation Serif',serif" fill="#000000" stroke="#000000" textLength="24.0" lengthAdjust="spacingAndGlyphs">FL</text>
<path d="M246.0,419.6h27" stroke="#ff0000" stroke-width="2.2" fill="none"/>
<text x="280.6" y="427.2" font-size="20.5" font-family="'DejaVu Serif','Liberation Serif',serif" fill="#ff0000" stroke="#ff0000" textLength="82.5" lengthAdjust="spacingAndGlyphs">Electron</text>
<path d="M246.0,453.6h27" stroke="#0000ff" stroke-width="2.2" fill="none"/>
<text x="280.6" y="461.2" font-size="20.5" font-family="'DejaVu Serif','Liberation Serif',serif" fill="#0000ff" stroke="#0000ff" textLength="47.0" lengthAdjust="spacingAndGlyphs">Hole</text>
<path d="M246.0,487.4h27" stroke="#000000" stroke-width="2.2" fill="none"/>
<text x="280.6 293.5 319.6 333.3" y="493.3" font-size="20.5" font-family="'DejaVu Serif','Liberation Serif',serif" font-style="italic" fill="#000000" stroke="#000000" style="stroke-width:.12px">xzyz</text>
<text x="307.8" y="494.70" font-size="25" font-family="'DejaVu Serif','Liberation Serif',serif" fill="#000000" stroke="#000000" style="stroke-width:.08px">/</text>
<text x="350.0" y="493.3" font-size="20.5" font-family="'DejaVu Serif','Liberation Serif',serif" fill="#000000" stroke="#000000" textLength="13.4" lengthAdjust="spacingAndGlyphs">–</text>
<text x="367.9" y="493.3" font-size="20.5" font-family="'DejaVu Serif','Liberation Serif',serif" fill="#000000" stroke="#000000" textLength="52.5" lengthAdjust="spacingAndGlyphs">Allen</text>
<path d="M246.0,521.2h27" stroke="#000000" stroke-width="2.2" fill="none" stroke-dasharray="2.2 1.85"/>
<text x="280.8" y="528.8" font-size="20.5" font-family="'DejaVu Serif','Liberation Serif',serif" fill="#000000" stroke="#000000" textLength="24.0" lengthAdjust="spacingAndGlyphs">FL</text>
<path d="M618.7,419.6h27" stroke="#ff0000" stroke-width="2.2" fill="none"/>
<text x="653.3" y="427.2" font-size="20.5" font-family="'DejaVu Serif','Liberation Serif',serif" fill="#ff0000" stroke="#ff0000" textLength="42.5" lengthAdjust="spacingAndGlyphs">Real</text>
<path d="M618.7,453.6h27" stroke="#0000ff" stroke-width="2.2" fill="none"/>
<text x="653.3" y="461.2" font-size="20.5" font-family="'DejaVu Serif','Liberation Serif',serif" fill="#0000ff" stroke="#0000ff" textLength="100.5" lengthAdjust="spacingAndGlyphs">Imaginary</text>
<path d="M618.7,487.4h27" stroke="#000000" stroke-width="2.2" fill="none"/>
<text x="653.3 666.2 692.3 706.0" y="493.3" font-size="20.5" font-family="'DejaVu Serif','Liberation Serif',serif" font-style="italic" fill="#000000" stroke="#000000" style="stroke-width:.12px">xzyz</text>
<text x="680.5" y="494.70" font-size="25" font-family="'DejaVu Serif','Liberation Serif',serif" fill="#000000" stroke="#000000" style="stroke-width:.08px">/</text>
<text x="722.7" y="493.3" font-size="20.5" font-family="'DejaVu Serif','Liberation Serif',serif" fill="#000000" stroke="#000000" textLength="13.4" lengthAdjust="spacingAndGlyphs">–</text>
<text x="740.6" y="493.3" font-size="20.5" font-family="'DejaVu Serif','Liberation Serif',serif" fill="#000000" stroke="#000000" textLength="52.5" lengthAdjust="spacingAndGlyphs">Allen</text>
<path d="M618.7,521.2h27" stroke="#000000" stroke-width="2.2" fill="none" stroke-dasharray="2.2 1.85"/>
<text x="653.5" y="528.8" font-size="20.5" font-family="'DejaVu Serif','Liberation Serif',serif" fill="#000000" stroke="#000000" textLength="24.0" lengthAdjust="spacingAndGlyphs">FL</text>
</svg>
</body></html>
